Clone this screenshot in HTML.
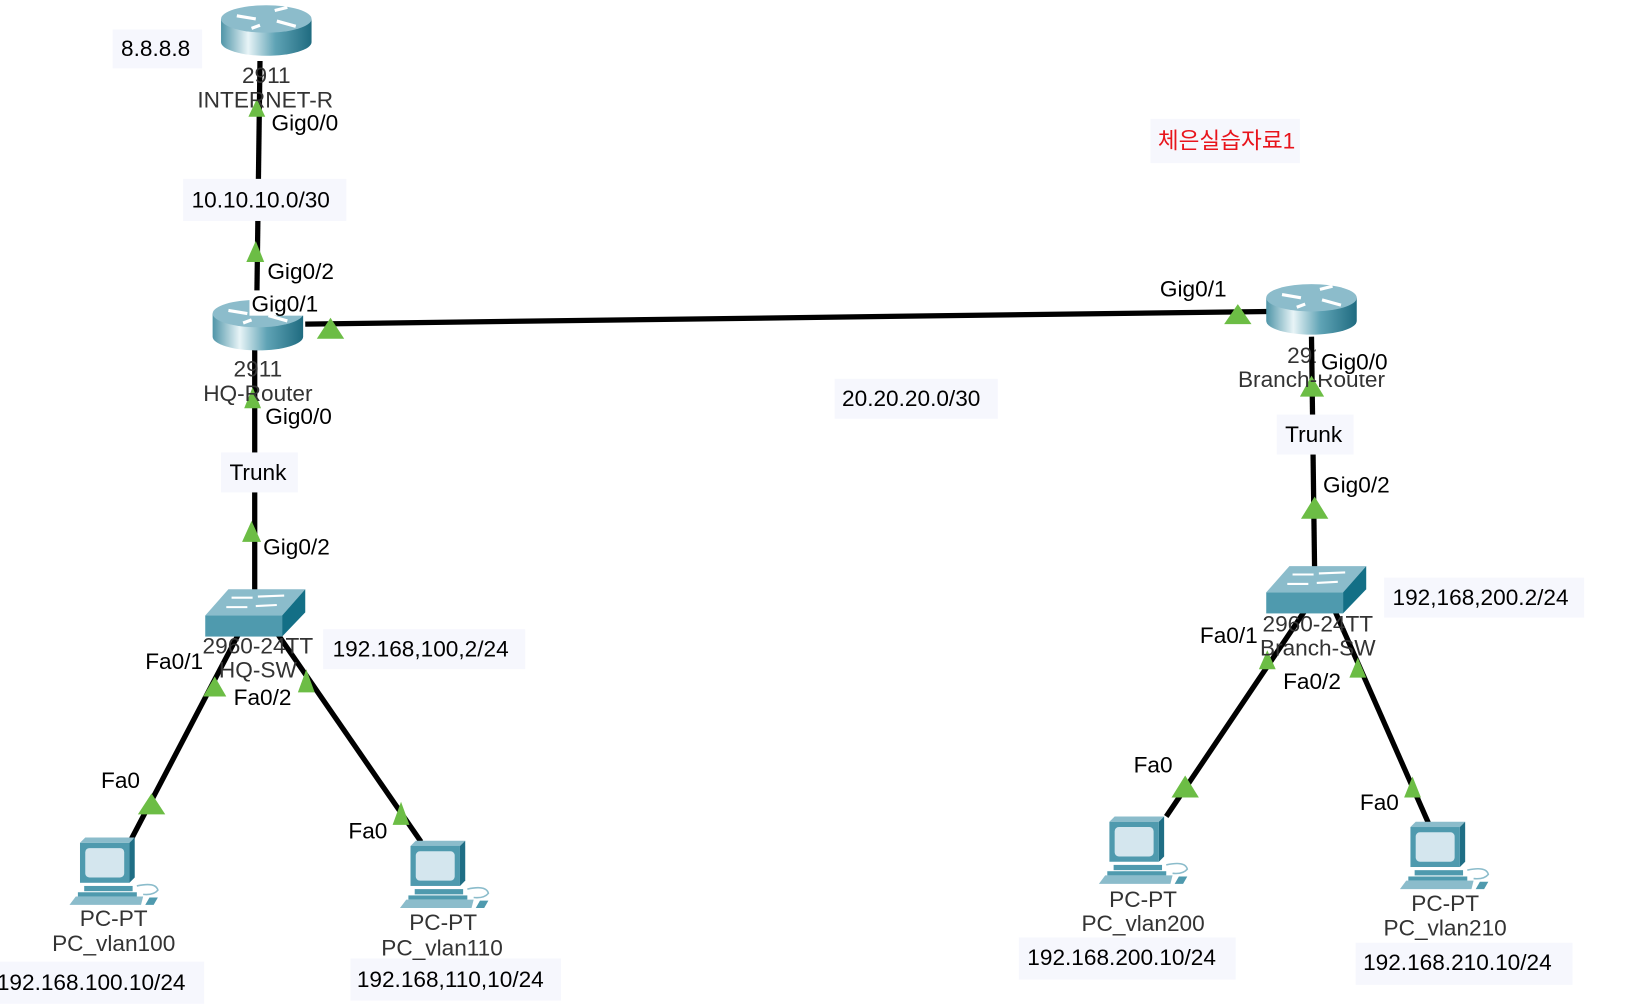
<!DOCTYPE html>
<html><head><meta charset="utf-8"><style>
html,body{margin:0;padding:0;background:#fff;width:1642px;height:1008px;overflow:hidden}
svg{display:block}
text{font-family:"Liberation Sans","Noto Sans CJK KR",sans-serif;font-size:21.5px;fill:#000}
.g{fill:#333}
</style></head><body>
<svg width="1642" height="1008" viewBox="0 0 1560 958" preserveAspectRatio="none" xmlns="http://www.w3.org/2000/svg">
<defs>
<linearGradient id="rb" x1="0" x2="1">
<stop offset="0" stop-color="#4f95a8"/><stop offset="0.3" stop-color="#e8f4f7"/><stop offset="0.6" stop-color="#5fa3b5"/><stop offset="1" stop-color="#1f6b80"/></linearGradient>
<g id="router">
<path d="M-43,0 L-43,22 A43,13 0 0 0 43,22 L43,0 Z" fill="url(#rb)"/>
<ellipse cx="0" cy="0" rx="43" ry="13" fill="#8cbccb"/>
<path d="M-28,-3 L-10,0 M8,-8 L20,-11 M-6,6 L-14,9 M10,2 L28,7" stroke="#fff" stroke-width="3"/>
</g>
<g id="sw">
<polygon points="0,25 22,0 95,0 73,25" fill="#8bbccb"/>
<polygon points="73,25 95,0 95,22 73,45" fill="#136f86"/>
<rect x="0" y="25" width="73" height="20" fill="#4f9aae"/>
<path d="M25,8 L45,8 M50,7 L75,6 M20,17 L40,17 M48,16 L68,15" stroke="#fff" stroke-width="2"/>
</g>
<g id="pc">
<polygon points="10,5 15,0 62,0 57,5" fill="#8bbccb"/>
<polygon points="57,5 62,0 62,38 57,43" fill="#1f6e85"/>
<rect x="10" y="5" width="47" height="38" fill="#4f9aae"/>
<rect x="15" y="10" width="37" height="28" rx="4" fill="#d4e6ee"/>
<rect x="14" y="46" width="46" height="5" fill="#4f9aae"/>
<rect x="8" y="52" width="56" height="4" fill="#4f9aae"/>
<polygon points="0,64 6,56 70,56 68,64" fill="#8bbccb"/>
<polygon points="72,64 76,57 84,57 80,64" fill="#4f9aae"/>
<path d="M64,46 q18,-4 20,4 q-4,5 -14,4" fill="none" stroke="#8bbccb" stroke-width="1.5"/>
</g>
</defs>

<g stroke="#000" stroke-width="5" fill="none">
<line x1="247" y1="58" x2="244" y2="285"/>
<line x1="242" y1="330" x2="242" y2="565"/>
<line x1="290" y1="308" x2="1205" y2="296"/>
<line x1="1246" y1="320" x2="1249" y2="545"/>
<line x1="228" y1="600" x2="125" y2="797"/>
<line x1="262" y1="600" x2="400" y2="800"/>
<line x1="1240" y1="580" x2="1108" y2="776"/>
<line x1="1268" y1="580" x2="1357" y2="782"/>
</g>
<g fill="#f6f7fd">
<rect x="107" y="28" width="85" height="37"/>
<rect x="174" y="170" width="155" height="40"/>
<rect x="210" y="430" width="73" height="38"/>
<rect x="1213" y="394" width="73" height="38"/>
<rect x="793" y="360" width="155" height="38"/>
<rect x="307" y="598" width="192" height="38"/>
<rect x="1315" y="549" width="190" height="38"/>
<rect x="1093" y="113" width="142" height="42"/>
<rect x="0" y="914" width="194" height="40"/>
<rect x="333" y="911" width="200" height="40"/>
<rect x="968" y="891" width="206" height="40"/>
<rect x="1288" y="896" width="206" height="40"/>
</g>

<use href="#router" x="253" y="18"/>
<use href="#router" x="245" y="298"/>
<use href="#router" x="1246" y="283"/>
<use href="#sw" x="195" y="560"/>
<use href="#sw" x="1203" y="538"/>
<use href="#pc" x="66" y="796"/>
<use href="#pc" x="380" y="799"/>
<use href="#pc" x="1044" y="776"/>
<use href="#pc" x="1330" y="781"/>

<g fill="#6cbd45">
<polygon points="244,94 236,111 252,111"/>
<polygon points="243,229 234,249 251,249"/>
<polygon points="240,368 232,388 248,388"/>
<polygon points="239,495 230,515 248,515"/>
<polygon points="314,302 301,322 327,322"/>
<polygon points="1176,289 1163,308 1189,308"/>
<polygon points="1246,357 1235,377 1258,377"/>
<polygon points="1249,472 1236,493 1262,493"/>
<polygon points="204,643 193,662 215,662"/>
<polygon points="291,636 283,658 299,658"/>
<polygon points="144,754 131,774 157,774"/>
<polygon points="381,762 373,784 389,784"/>
<polygon points="1204,618 1196,636 1212,636"/>
<polygon points="1290,625 1282,644 1298,644"/>
<polygon points="1126,737 1113,758 1139,758"/>
<polygon points="1342,738 1334,758 1350,758"/>
</g>

<g text-anchor="middle">
<text class="g" x="253" y="79">2911</text>
<text class="g" x="252" y="102">INTERNET-R</text>
<text class="g" x="245" y="358">2911</text>
<text class="g" x="245" y="381">HQ-Router</text>
<text class="g" x="1246" y="345">2911</text>
<text class="g" x="1246" y="368">Branch-Router</text>
<text class="g" x="245" y="621">2960-24TT</text>
<text class="g" x="245" y="644">HQ-SW</text>
<text class="g" x="1252" y="600">2960-24TT</text>
<text class="g" x="1252" y="623">Branch-SW</text>
<text class="g" x="108" y="880">PC-PT</text>
<text class="g" x="108" y="904">PC_vlan100</text>
<text class="g" x="421" y="884">PC-PT</text>
<text class="g" x="420" y="908">PC_vlan110</text>
<text class="g" x="1086" y="862">PC-PT</text>
<text class="g" x="1086" y="885">PC_vlan200</text>
<text class="g" x="1373" y="866">PC-PT</text>
<text class="g" x="1373" y="889">PC_vlan210</text>
</g>
<rect x="1250" y="330" width="76" height="26" fill="#fff"/>
<rect x="237" y="276" width="70" height="24" fill="#fff"/>

<text x="115" y="53">8.8.8.8</text>
<text x="258" y="124">Gig0/0</text>
<text x="182" y="197">10.10.10.0/30</text>
<text x="254" y="265">Gig0/2</text>
<text x="239" y="296">Gig0/1</text>
<text x="252" y="403">Gig0/0</text>
<text x="218" y="456">Trunk</text>
<text x="250" y="527">Gig0/2</text>
<text x="800" y="386">20.20.20.0/30</text>
<text x="1102" y="282">Gig0/1</text>
<text x="1255" y="351">Gig0/0</text>
<text x="1221" y="420">Trunk</text>
<text x="1257" y="468">Gig0/2</text>
<text x="316" y="624">192.168,100,2/24</text>
<text x="138" y="636">Fa0/1</text>
<text x="222" y="670">Fa0/2</text>
<text x="96" y="749">Fa0</text>
<text x="331" y="797">Fa0</text>
<text x="1323" y="575">192,168,200.2/24</text>
<text x="1140" y="611">Fa0/1</text>
<text x="1219" y="655">Fa0/2</text>
<text x="1077" y="734">Fa0</text>
<text x="1292" y="770">Fa0</text>
<text x="-3" y="941">192.168.100.10/24</text>
<text x="339" y="938">192.168,110,10/24</text>
<text x="976" y="917">192.168.200.10/24</text>
<text x="1295" y="922">192.168.210.10/24</text>
<text x="1100" y="141" style="fill:#e8141c">체은실습자료1</text>
</svg>
</body></html>
